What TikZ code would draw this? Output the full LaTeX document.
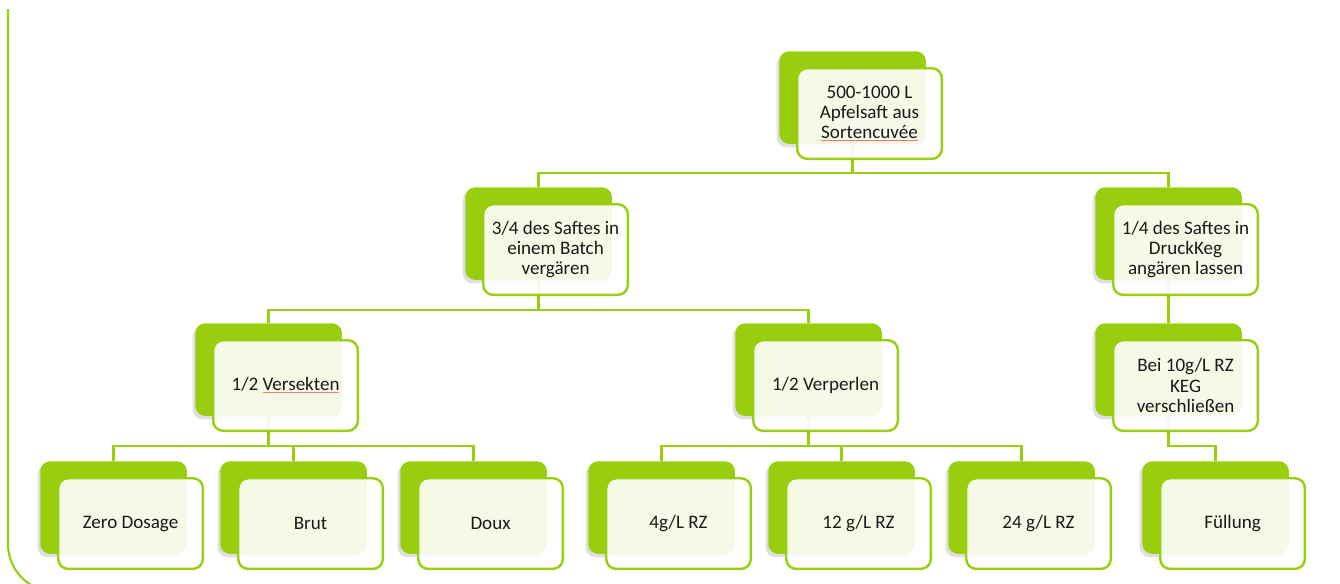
\documentclass[tikz,border=0pt]{standalone}
\usepackage{fontspec}
\setmainfont{Carlito}
\usetikzlibrary{shadows,backgrounds}
\definecolor{lgreen}{RGB}{153,206,15}
\definecolor{txt}{RGB}{25,25,25}
\tikzset{
  gbox/.style={fill=lgreen, rounded corners=7.5pt, minimum width=110pt, minimum height=69.5pt,
    anchor=north west, inner sep=0pt,
    drop shadow={shadow xshift=-2pt,shadow yshift=-2.5pt,opacity=0.25}},
  fbox/.style={draw=lgreen, line width=1.8pt, fill=white, fill opacity=0.9, text opacity=1,
    rounded corners=7.5pt, minimum width=108.5pt, minimum height=68pt, anchor=north west,
    inner sep=2pt, align=center, text=txt, font=\fontsize{14.3}{15.2}\selectfont},
  conn/.style={draw=lgreen, line width=1.8pt},
  frameline/.style={draw=lgreen, line width=1.6pt},
}
\newcommand\smbox[4]{%
  \node[gbox] (#1-g) at (#2,#3) {};
  \node[fbox] (#1) at (#2+17,#3+16) {#4};}
\newcommand\squig[1]{{\color{red!55}$\underline{\hbox{\color{txt}#1}}$}}
\begin{document}
\begin{tikzpicture}[x=0.75pt,y=-0.75pt]
\useasboundingbox (0,0) rectangle (1340,583);
% outer frame (left side)
\draw[frameline, rounded corners=36pt] (8,9) -- (8,592) -- (1400,592);
% boxes
\smbox{top}{779}{51}{500-1000 L\\Apfelsaft aus\\\squig{Sortencuvée}}
\smbox{ba}{465}{187}{3/4 des Saftes in\\einem Batch\\vergären}
\smbox{bb}{1095}{187}{1/4 des Saftes in\\DruckKeg\\angären lassen}
\smbox{ca}{195}{323}{1/2 \squig{Versekten}}
\smbox{cb}{735}{323}{1/2 Verperlen}
\smbox{cc}{1095}{323}{Bei 10g/L RZ\\KEG\\verschließen}
\smbox{d1}{40}{461}{Zero Dosage}
\smbox{d2}{220}{461}{Brut}
\smbox{d3}{400}{461}{Doux}
\smbox{d4}{588}{461}{4g/L RZ}
\smbox{d5}{768}{461}{12 g/L RZ}
\smbox{d6}{948}{461}{24 g/L RZ}
\smbox{d7}{1142}{461}{Füllung}
% connectors
\coordinate (y1) at (0,173);
\coordinate (y2) at (0,310);
\coordinate (y3) at (0,446);
\begin{pgfonlayer}{background}
\draw[conn] (top-g.south) -- (top-g.south |- y1) -| (ba-g.north);
\draw[conn] (top-g.south) -- (top-g.south |- y1) -| (bb-g.north);
\draw[conn] (ba-g.south) -- (ba-g.south |- y2) -| (ca-g.north);
\draw[conn] (ba-g.south) -- (ba-g.south |- y2) -| (cb-g.north);
\draw[conn] (bb-g.south) -- (cc-g.north);
\draw[conn] (ca-g.south) -- (ca-g.south |- y3) -| (d1-g.north);
\draw[conn] (ca-g.south) -- (ca-g.south |- y3) -| (d2-g.north);
\draw[conn] (ca-g.south) -- (ca-g.south |- y3) -| (d3-g.north);
\draw[conn] (cb-g.south) -- (cb-g.south |- y3) -| (d4-g.north);
\draw[conn] (cb-g.south) -- (cb-g.south |- y3) -| (d5-g.north);
\draw[conn] (cb-g.south) -- (cb-g.south |- y3) -| (d6-g.north);
\draw[conn] (cc-g.south) -- (cc-g.south |- y3) -| (d7-g.north);
\end{pgfonlayer}
\end{tikzpicture}
\end{document}
